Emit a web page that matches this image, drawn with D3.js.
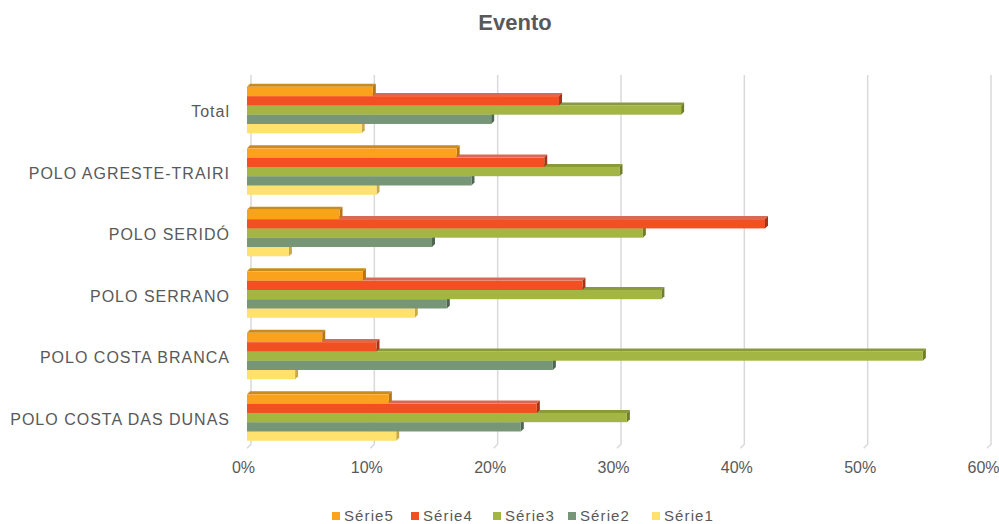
<!DOCTYPE html>
<html><head><meta charset="utf-8">
<script src="https://cdn.jsdelivr.net/npm/d3@7"></script>
<style>
body{margin:0;background:#fff;}
text{font-family:"Liberation Sans",Arial,sans-serif;fill:#595959;}
</style></head>
<body><svg id="c" width="999" height="524"></svg>
<script>
const categories = ["Total","POLO AGRESTE-TRAIRI","POLO SERIDÓ","POLO SERRANO","POLO COSTA BRANCA","POLO COSTA DAS DUNAS"];
const seriesNames = ["Série5","Série4","Série3","Série2","Série1"];
const serie5 = [0.102,0.170,0.075,0.094,0.061,0.115];
const serie4 = [0.253,0.241,0.420,0.272,0.105,0.235];
const serie3 = [0.352,0.302,0.321,0.336,0.548,0.308];
const serie2 = [0.198,0.182,0.150,0.162,0.248,0.222];
const serie1 = [0.093,0.105,0.034,0.136,0.039,0.121];
const ticks = [0,0.1,0.2,0.3,0.4,0.5,0.6];
const colors = ["#FAA21C","#F25022","#A3B543","#779677","#FFE16D"];
const sideColors = ["#B8740E","#A8331A","#6F7E2A","#4E6650","#C9A945"];
const topColors = ["#C98A1E","#D66A55","#8A9A3A","#A9B8AA","#E8D08A"];
const seriesData = [serie5,serie4,serie3,serie2,serie1];

const svg = d3.select("#c");
const x = d3.scaleLinear().domain([0,0.6]).range([247,987]);
const y = d3.scaleBand().domain(categories).range([79.3,448.3]).paddingInner(0.245).paddingOuter(0.1225);
const ys = d3.scaleBand().domain(seriesNames).range([0,y.bandwidth()]);
const wdx = 4, wdy = -4, bd = 3;

// title
svg.append("text").attr("x",515).attr("y",30).attr("text-anchor","middle")
  .style("font-size","22px").style("font-weight","bold").text("Evento");

// gridlines with 3D floor offset
const gTop = 75, gBot = 448.3;
svg.append("g").selectAll("path").data(ticks).join("path")
  .attr("d",t=>`M${x(t)+wdx},${gTop}L${x(t)+wdx},${gBot+wdy}L${x(t)},${gBot}`)
  .attr("fill","none").attr("stroke","#d9d9d9").attr("stroke-width",1.5);

// axis labels
const ax = d3.axisBottom(x).tickValues(ticks).tickFormat(d3.format(".0%")).tickSize(0).tickPadding(0);
const axG = svg.append("g").attr("transform","translate(-4,473)").call(ax);
axG.select(".domain").remove();
axG.selectAll("text").style("font-size","16px").attr("fill","#595959").attr("dy","0");

// category labels
const yAx = d3.axisLeft(y).tickSize(0).tickPadding(0);
const yG = svg.append("g").attr("transform","translate(230,2)").call(yAx);
yG.select(".domain").remove();
yG.selectAll("text").style("font-size","16px").style("letter-spacing","1px").attr("fill","#595959");

// bars: draw bottom series first so upper fronts cover lower top faces
const order = [4,3,2,1,0];
const bars = svg.append("g");
categories.forEach((c,ci)=>{
  order.forEach(si=>{
    const v = seriesData[si][ci];
    const x0 = x(0), x1 = x(v);
    const y0 = y(c)+ys(seriesNames[si]), h = ys.bandwidth();
    const g = bars.append("g");
    g.append("path").attr("d",`M${x0},${y0}L${x0+bd},${y0-bd}L${x1+bd},${y0-bd}L${x1},${y0}Z`).attr("fill",topColors[si]);
    g.append("path").attr("d",`M${x1},${y0}L${x1+bd},${y0-bd}L${x1+bd},${y0+h-bd}L${x1},${y0+h}Z`).attr("fill",sideColors[si]);
    g.append("rect").attr("x",x0).attr("y",y0).attr("width",x1-x0).attr("height",h).attr("fill",colors[si]);
  });
});

// legend
const legX = [332,411,493,568,652];
const leg = svg.append("g").selectAll("g").data(seriesNames).join("g")
  .attr("transform",(d,i)=>`translate(${legX[i]},512)`);
leg.append("rect").attr("width",8).attr("height",8).attr("fill",(d,i)=>colors[i]);
leg.append("text").attr("x",12).attr("y",8.5).style("font-size","15px").style("letter-spacing","1.1px").text(d=>d);
</script></body></html>
